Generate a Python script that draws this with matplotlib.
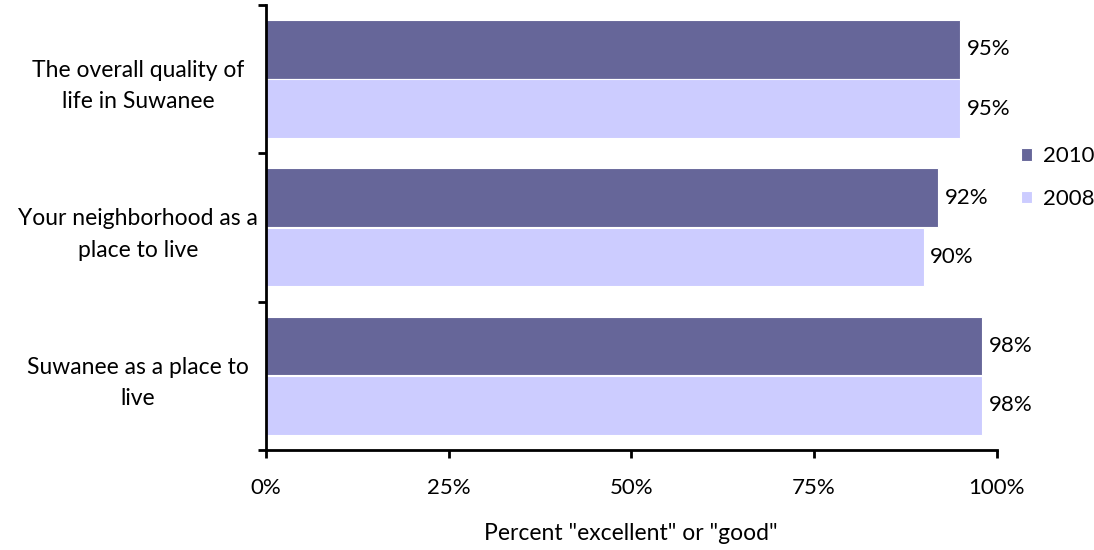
import matplotlib
matplotlib.use("Agg")
import matplotlib.pyplot as plt
import numpy as np

plt.rcParams['font.family'] = ['Lato', 'DejaVu Sans']

categories = ["The overall quality of\nlife in Suwanee",
              "Your neighborhood as a\nplace to live",
              "Suwanee as a place to\nlive"]
values_2010 = [95, 92, 98]
values_2008 = [95, 90, 98]
series_names = ["2010", "2008"]
x_ticks = [0, 25, 50, 75, 100]
x_tick_labels = ["0%", "25%", "50%", "75%", "100%"]

color_2010 = "#666699"
color_2008 = "#CCCCFF"

fig = plt.figure(figsize=(10.94, 5.5), dpi=100)
ax = fig.add_axes([0.243, 0.182, 0.668, 0.809])

y = np.arange(len(categories))  # 0 = top category
bh = 0.395
off = 0.2
b1 = ax.barh(y - off, values_2010, height=bh, color=color_2010, label=series_names[0],
             edgecolor="white", linewidth=0.8)
b2 = ax.barh(y + off, values_2008, height=bh, color=color_2008, label=series_names[1],
             edgecolor="white", linewidth=0.8)

for bars, vals in ((b1, values_2010), (b2, values_2008)):
    for rect, v in zip(bars, vals):
        ax.text(v + 0.9, rect.get_y() + rect.get_height() / 2, f"{v}%",
                va="center", ha="left", fontsize=16)

ax.set_ylim(len(categories) - 0.5, -0.5)
ax.set_xlim(0, 100)

# category labels centered between boundary ticks
ax.set_yticks(np.arange(len(categories) + 1) - 0.5)
ax.set_yticklabels([])
ax.set_yticks(y, minor=True)
ax.set_yticklabels(categories, minor=True, fontsize=16.5, ha="center", linespacing=1.6)
ax.tick_params(axis="y", which="minor", length=0, pad=92)
ax.tick_params(axis="y", which="major", length=6, width=2, direction="out")

ax.set_xticks(x_ticks)
ax.set_xticklabels(x_tick_labels, fontsize=16)
ax.tick_params(axis="x", length=6, width=2, direction="out", pad=14)
ax.set_xlabel('Percent "excellent" or "good"', fontsize=16.5, labelpad=18)

for s in ("top", "right"):
    ax.spines[s].set_visible(False)
for s in ("left", "bottom"):
    ax.spines[s].set_linewidth(2)

leg = fig.legend(handles=[b1, b2], labels=series_names, loc="upper left",
                 bbox_to_anchor=(0.915, 0.77), frameon=False, fontsize=16,
                 handlelength=0.5, handleheight=0.5, handletextpad=0.5,
                 labelspacing=1.0)

fig.savefig("out.png", dpi=100)
